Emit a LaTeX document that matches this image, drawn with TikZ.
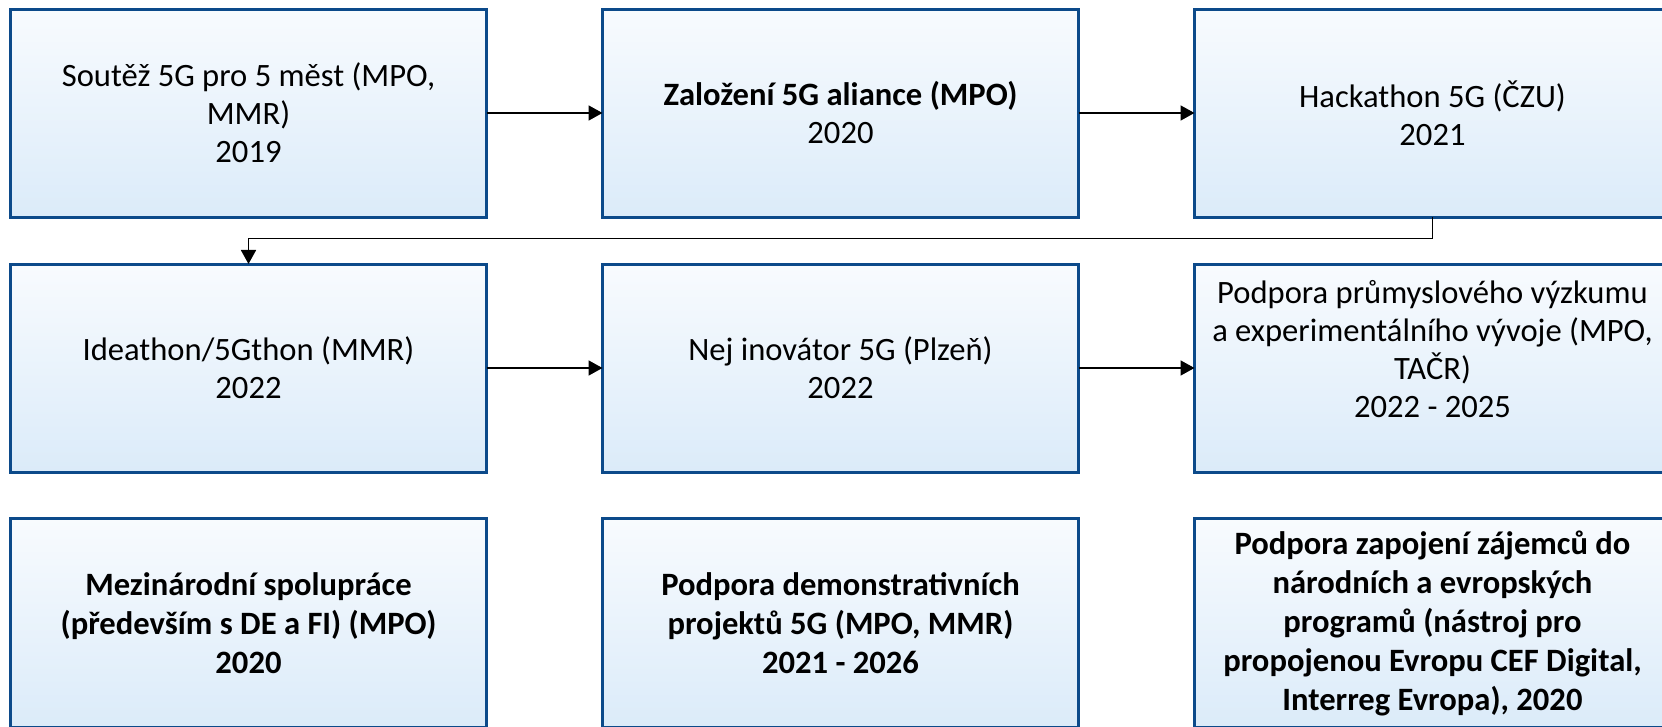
\documentclass[tikz,border=0pt]{standalone}
\usepackage{fontspec}
\setmainfont{Carlito}
\usepackage{tikz}
\usetikzlibrary{arrows.meta,matrix}

\definecolor{boxline}{RGB}{12,74,138}
\definecolor{boxtop}{RGB}{248,251,254}
\definecolor{boxbot}{RGB}{219,235,249}

\tikzset{
  stepbox/.style={draw=boxline, line width=1.5pt, rectangle, top color=boxtop, bottom color=boxbot,
    minimum width=238pt, minimum height=104pt, inner sep=4pt, align=center,
    font=\fontsize{16.3}{19}\selectfont, anchor=center},
  boldbox/.style={stepbox, font=\fontsize{16.3}{19.5}\selectfont\bfseries},
  link/.style={line width=0.9pt, -{Triangle[length=7pt,width=7.5pt]}}
}

\begin{document}
\begin{tikzpicture}
\useasboundingbox (0,0) rectangle (831pt,-363.5pt);
\matrix (m) at (4.5pt,-3.75pt) [anchor=north west, inner sep=0pt, outer sep=0pt, column sep=56.5pt, row sep=22pt]{
\node[stepbox] (soutez) {Soutěž 5G pro 5 měst (MPO,\\ MMR)\\ 2019}; &
\node[stepbox] (aliance) {\textbf{Založení 5G aliance (MPO)}\\ 2020}; &
\node[stepbox] (hackathon) {Hackathon 5G (ČZU)\\ 2021}; \\
\node[stepbox] (ideathon) {Ideathon/5Gthon (MMR)\\ 2022}; &
\node[stepbox] (inovator) {Nej inovátor 5G (Plzeň)\\ 2022}; &
\node[stepbox] (vyzkum) {Podpora průmyslového výzkumu\\ a experimentálního vývoje (MPO,\\ TAČR)\\ 2022 - 2025\\ \phantom{2}}; \\
\node[boldbox] (spoluprace) {Mezinárodní spolupráce\\ (především s DE a FI) (MPO)\\ 2020}; &
\node[boldbox] (demo) {Podpora demonstrativních\\ projektů 5G (MPO, MMR)\\ 2021 - 2026}; &
\node[boldbox] (zapojeni) {Podpora zapojení zájemců do\\ národních a evropských\\ programů (nástroj pro\\ propojenou Evropu CEF Digital,\\ Interreg Evropa), 2020}; \\
};

\draw[link] (soutez) -- (aliance);
\draw[link] (aliance) -- (hackathon);
\draw[link] (hackathon.south) -- ++(0,-10.75pt) -| (ideathon.north);
\draw[link] (ideathon) -- (inovator);
\draw[link] (inovator) -- (vyzkum);
\end{tikzpicture}
\end{document}
